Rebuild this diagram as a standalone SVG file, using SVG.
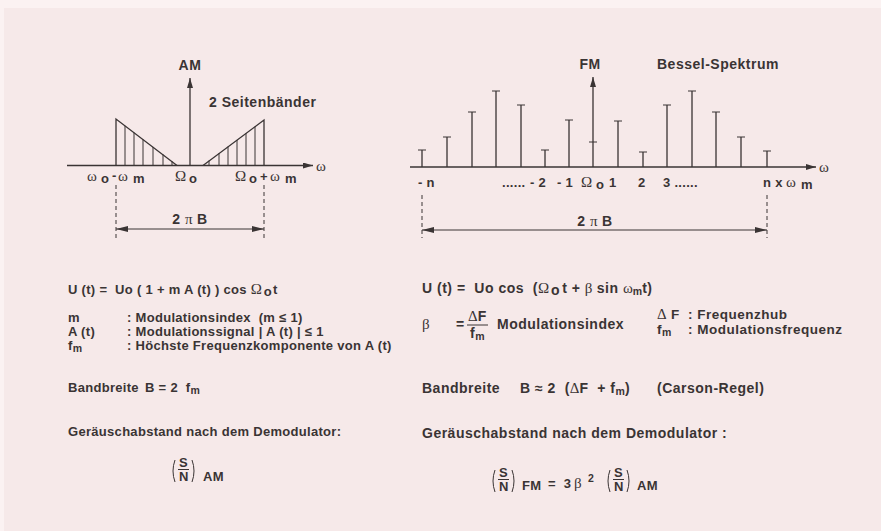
<svg xmlns="http://www.w3.org/2000/svg" width="881" height="531" viewBox="0 0 881 531">
<defs>
<marker id="ah" viewBox="0 0 10 6" refX="10" refY="3" markerWidth="10" markerHeight="6" markerUnits="userSpaceOnUse" orient="auto"><path d="M0,0 L10,3 L0,6 Z" fill="#3a3434"/></marker>
<marker id="dh" viewBox="0 0 12 6" refX="12" refY="3" markerWidth="12" markerHeight="6" markerUnits="userSpaceOnUse" orient="auto-start-reverse"><path d="M0,0 L12,3 L0,6 Z" fill="#3a3434"/></marker>
</defs>
<style>
text{white-space:pre}
.t{font-family:"Liberation Sans",Arial,sans-serif;font-weight:bold;font-size:13px;fill:#3a3434;letter-spacing:0.3px}
.r{font-size:14px;letter-spacing:0.5px}
.q{font-size:13.5px;letter-spacing:0.5px}
.g{font-family:"Liberation Serif","Times New Roman",serif;font-weight:normal;font-size:15px;fill:#3a3434;letter-spacing:0}
.s{font-size:10.5px;letter-spacing:0}
.ln{stroke:#3a3434;stroke-width:1.3;fill:none}
.th{stroke:#3a3434;stroke-width:1;fill:none}
.da{stroke:#3a3434;stroke-width:1;stroke-dasharray:4 3;fill:none}
</style>
<rect x="0" y="0" width="881" height="531" fill="#fbf2f2"/>
<rect x="4" y="8" width="877" height="523" fill="#f6e9e9"/>

<g id="connectors">
<line class="ln" x1="67" y1="165.5" x2="313" y2="165.5" marker-end="url(#ah)"/>
<line class="ln" x1="190" y1="165.5" x2="190" y2="78" marker-end="url(#ah)"/>
<line class="da" x1="116" y1="185" x2="116" y2="238"/>
<line class="da" x1="264" y1="185" x2="264" y2="238"/>
<line class="th" x1="116" y1="229" x2="264" y2="229" marker-start="url(#dh)" marker-end="url(#dh)"/>
<line class="ln" x1="410" y1="167" x2="816" y2="167" marker-end="url(#ah)"/>
<line class="ln" x1="593" y1="167" x2="593" y2="77" marker-end="url(#ah)"/>
<line class="da" x1="422" y1="195" x2="422" y2="238"/>
<line class="da" x1="767" y1="195" x2="767" y2="238"/>
<line class="th" x1="422" y1="230" x2="767" y2="230" marker-start="url(#dh)" marker-end="url(#dh)"/>
</g>

<g id="am-spectrum">
<polyline class="ln" points="116,165.5 116,119 177,165.5"/>
<polyline class="ln" points="203,165.5 264,120 264,165.5"/>
<path class="th" d="M125,165.5V125.8M134,165.5V132.6M143,165.5V139.4M153,165.5V146.9M163,165.5V154.4M172,165.5V161.2M209,165.5V160.6M219,165.5V153.2M228,165.5V146.6M237,165.5V139.9M246,165.5V133.3M255,165.5V126.6"/>
<text class="t r" x="190" y="70" text-anchor="middle">AM</text>
<text class="t r" x="209" y="107">2 Seitenbänder</text>
<text class="g" x="316" y="171">ω</text>
<text class="g" x="87" y="181">ω</text>
<text class="t" x="101" y="183">o</text>
<text class="t" x="112" y="180">-</text>
<text class="g" x="118" y="181">ω</text>
<text class="t" x="133" y="183">m</text>
<text class="g" x="175" y="181">Ω</text>
<text class="t" x="189" y="183">o</text>
<text class="g" x="235" y="181">Ω</text>
<text class="t" x="249" y="183">o</text>
<text class="t" x="260" y="181">+</text>
<text class="g" x="270" y="181">ω</text>
<text class="t" x="285" y="183">m</text>
<text class="t r" x="190" y="224" text-anchor="middle">2 <tspan class="g">π</tspan> B</text>
</g>

<g id="fm-spectrum">
<path class="ln" d="M422,167V150M447,167V137M472,167V112M496,167V91M521,167V105M545,167V150M569,167V120M618,167V121M643,167V152M667,167V105M692,167V91M716,167V112M741,167V137M767,167V151"/>
<path class="th" d="M418,150h8M443,137h8M468,112h8M492,91h8M517,105h8M541,150h8M565,120h8M589,142h8M614,121h8M639,152h8M663,105h8M688,91h8M712,112h8M737,137h8M763,151h8"/>
<text class="t r" x="590" y="69" text-anchor="middle">FM</text>
<text class="t r" x="657" y="69">Bessel-Spektrum</text>
<text class="g" x="819" y="172">ω</text>
<text class="t" x="418" y="187">- n</text>
<text class="t" x="502" y="187">......</text>
<text class="t" x="530" y="187">- 2</text>
<text class="t" x="557" y="187">- 1</text>
<text class="g" x="581" y="187">Ω</text>
<text class="t" x="596" y="189">o</text>
<text class="t" x="609" y="187">1</text>
<text class="t" x="638" y="187">2</text>
<text class="t" x="663" y="187">3 ......</text>
<text class="t" x="763" y="187">n x</text>
<text class="g" x="786" y="187">ω</text>
<text class="t" x="801" y="189">m</text>
<text class="t r" x="595" y="226" text-anchor="middle">2 <tspan class="g">π</tspan> B</text>
</g>

<g id="am-text">
<text class="t" x="68" y="294">U (t) =  Uo ( 1 + m A (t) ) cos <tspan class="g">Ω</tspan><tspan dx="2" dy="2">o</tspan><tspan dx="1" dy="-2">t</tspan></text>
<text class="t" x="68" y="322">m</text>
<text class="t" x="127" y="322">: Modulationsindex  (m ≤ 1)</text>
<text class="t" x="68" y="336">A (t)</text>
<text class="t" x="127" y="336">: Modulationssignal | A (t) | ≤ 1</text>
<text class="t" x="68" y="350">f<tspan class="s" dy="2">m</tspan></text>
<text class="t" x="127" y="350">: Höchste Frequenzkomponente von A (t)</text>
<text class="t" x="68" y="392">Bandbreite</text>
<text class="t" x="145" y="392">B = 2  f<tspan class="s" dy="2">m</tspan></text>
<text class="t" x="68" y="436">Geräuschabstand nach dem Demodulator:</text>
<text class="t" x="179" y="467">S</text>
<line class="th" x1="178" y1="469.5" x2="189" y2="469.5"/>
<text class="t" x="179" y="481">N</text>
<path class="th" d="M175,460 Q171,471 175,482 M192,460 Q196,471 192,482"/>
<text class="t" x="203" y="481">AM</text>
</g>

<g id="fm-text">
<text class="t r" x="422" y="293">U (t) =  Uo cos  (<tspan class="g">Ω</tspan><tspan dx="2" dy="2">o</tspan><tspan dx="2" dy="-2">t + </tspan><tspan class="g">β</tspan> sin <tspan class="g">ω</tspan><tspan class="s" dy="2">m</tspan><tspan dy="-2">t)</tspan></text>
<text class="g" x="422" y="329">β</text>
<text class="t r" x="456" y="329">=</text>
<text class="t r" x="468" y="321"><tspan class="g">Δ</tspan>F</text>
<line class="th" x1="467" y1="325" x2="488" y2="325"/>
<text class="t r" x="470" y="338">f<tspan class="s" dy="2">m</tspan></text>
<text class="t r" x="497" y="329">Modulationsindex</text>
<text class="t q" x="657" y="319"><tspan class="g">Δ</tspan> F</text>
<text class="t q" x="688" y="319">: Frequenzhub</text>
<text class="t q" x="657" y="334">f<tspan class="s" dy="2">m</tspan></text>
<text class="t q" x="688" y="334">: Modulationsfrequenz</text>
<text class="t r" x="422" y="393">Bandbreite</text>
<text class="t r" x="520" y="393">B ≈ 2  (<tspan class="g">Δ</tspan>F  + f<tspan class="s" dy="2">m</tspan><tspan dy="-2">)</tspan></text>
<text class="t r" x="657" y="393">(Carson-Regel)</text>
<text class="t r" x="422" y="438">Geräuschabstand nach dem Demodulator :</text>
<text class="t" x="499" y="477">S</text>
<line class="th" x1="498" y1="479.5" x2="509" y2="479.5"/>
<text class="t" x="499" y="491">N</text>
<path class="th" d="M495,470 Q491,481 495,492 M512,470 Q516,481 512,492"/>
<text class="t" x="522" y="490">FM</text>
<text class="t" x="548" y="488">=  3</text>
<text class="g" x="574" y="488">β</text>
<text class="t s" x="588" y="482">2</text>
<text class="t" x="614" y="477">S</text>
<line class="th" x1="613" y1="479.5" x2="624" y2="479.5"/>
<text class="t" x="614" y="491">N</text>
<path class="th" d="M610,470 Q606,481 610,492 M627,470 Q631,481 627,492"/>
<text class="t" x="637" y="490">AM</text>
</g>
</svg>
